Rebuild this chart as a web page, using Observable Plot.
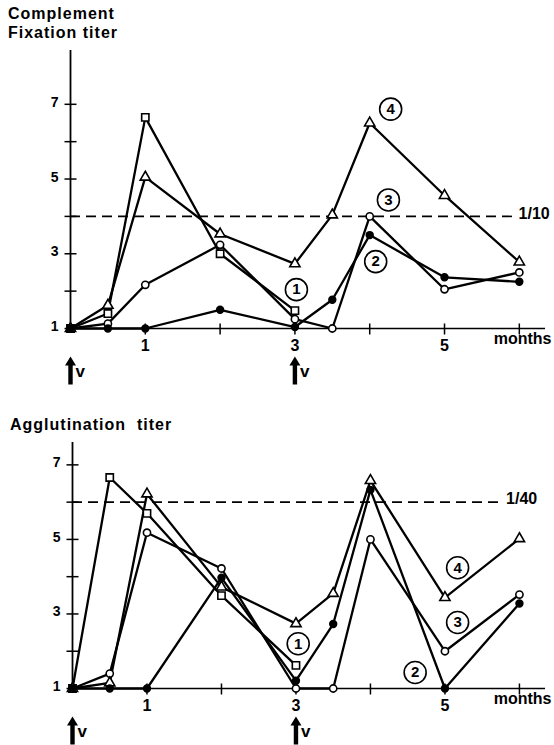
<!DOCTYPE html>
<html>
<head>
<meta charset="utf-8">
<script src="https://cdn.jsdelivr.net/npm/d3@7"></script>
<script src="https://cdn.jsdelivr.net/npm/@observablehq/plot@0.6"></script>
<style>
  html, body { margin: 0; padding: 0; background: #fff; }
  #wrap { position: relative; width: 554px; height: 745px; font-family: "Liberation Sans", Arial, sans-serif; color: #000; }
  .title { position: absolute; font-weight: bold; font-size: 16px; line-height: 19px; letter-spacing: 1px; white-space: pre; }
  .panel { position: absolute; left: 0; }
</style>
</head>
<body>
<div id="wrap">
  <div id="top" class="panel" style="top:0px"></div>
  <div id="bottom" class="panel" style="top:395px"></div>
  <div class="title" style="left:8px; top:4px">Complement
Fixation titer</div>
  <div class="title" style="left:10px; top:415px">Agglutination  titer</div>
</div>
<script>
// ---- data ----
const months = [0, 0.5, 1, 2, 3, 3.5, 4, 5, 6];

// Complement fixation titer (series 1..4)
const cfSeries1 = [1, 1.4, 6.65, 3.0, 1.48, null, null, null, null];   // open squares
const cfSeries2 = [1, 1.0, 1.0, 1.5, 1.04, 1.77, 3.5, 2.37, 2.25];     // filled circles
const cfSeries3 = [1, 1.13, 2.17, 3.24, 1.25, 1.0, 4.0, 2.05, 2.5];    // open circles
const cfSeries4 = [1, 1.62, 5.05, 3.53, 2.73, 4.04, 6.5, 4.56, 2.78];  // open triangles

// Agglutination titer (series 1..4)
const agSeries1 = [1, 6.66, 5.7, 3.49, 1.62, null, null, null, null];
const agSeries2 = [1, 1.0, 1.0, 3.97, 1.21, 2.73, 6.33, 1.0, 3.28];
const agSeries3 = [1, 1.4, 5.18, 4.22, 1.0, 1.0, 5.0, 2.0, 3.52];
const agSeries4 = [1, 1.15, 6.22, 3.72, 2.74, 3.55, 6.58, 3.44, 5.02];

const seriesNames = ["1", "2", "3", "4"];
const seriesSymbols = ["square", "circle", "circle", "triangle"];
const seriesFills = ["white", "black", "white", "white"];
const seriesRadius = [4.1, 3.4, 3.6, 3.8];
const markerOrder = [0, 2, 3, 1]; // filled circles drawn on top

// circled series labels
const cfLabelX = [3.02, 4.08, 4.25, 4.28];
const cfLabelY = [2.04, 2.79, 4.44, 6.87];
const agLabelX = [3.03, 4.6, 5.17, 5.17];
const agLabelY = [2.2, 1.43, 2.77, 4.24];

// axes
const yTicks = [1, 2, 3, 4, 5, 6, 7];
const yTickLabels = ["1", "", "3", "", "5", "", "7"];
const xTicks = [1, 2, 3, 4, 5, 6];
const xTickLabels = ["1", "", "3", "", "5", ""];
const xLabel = "months";

// reference lines & vaccinations
const cfThreshold = 4, cfThresholdLabel = "1/10", cfThresholdEnd = 5.91;
const agThreshold = 6, agThresholdLabel = "1/40", agThresholdEnd = 5.74;
const vaccinations = [0, 3];
const vaccinationLabel = "v";

// ---- helpers ----
function rows(values, series) {
  return months.map((m, i) => ({series, x: m, y: values[i]})).filter(d => d.y != null);
}

const arrowSymbol = {
  draw(context, size) {
    const s = Math.sqrt(size / Math.PI); // = r
    const tip = -s, base = -s + 9, hw = 5.5, sw = 2.2;
    context.moveTo(0, tip);
    context.lineTo(hw, base);
    context.lineTo(sw, base);
    context.lineTo(sw, s);
    context.lineTo(-sw, s);
    context.lineTo(-sw, base);
    context.lineTo(-hw, base);
    context.closePath();
  }
};
// crossing tick marks (centred on the axis line)
const hTick = {draw(context) { context.moveTo(-6, 0); context.lineTo(6, 0); }};
const vTick = {draw(context) { context.moveTo(0, -5); context.lineTo(0, 6); }};

function panel(cfg) {
  const data = cfg.series.map((v, i) => rows(v, seriesNames[i]));
  const labels = seriesNames.map((n, i) => ({text: n, x: cfg.labelX[i], y: cfg.labelY[i]}));
  const marks = [
    Plot.ruleX([0], {strokeWidth: 1.8}),
    Plot.ruleY([1], {strokeWidth: 1.6}),
    Plot.dot(yTicks, {y: d => d, frameAnchor: "left", symbol: hTick, fill: "none", stroke: "black", strokeWidth: 1.5}),
    Plot.dot(xTicks, {x: d => d, frameAnchor: "bottom", symbol: vTick, fill: "none", stroke: "black", strokeWidth: 1.5}),
    Plot.axisY(yTicks, {anchor: "left", tickSize: 0, tickPadding: 12, dy: -2, label: null,
      tickFormat: d => yTickLabels[yTicks.indexOf(d)], fontSize: 14, fontWeight: "bold"}),
    Plot.axisX(xTicks, {anchor: "bottom", tickSize: 0, tickPadding: 11, label: null,
      tickFormat: d => xTickLabels[xTicks.indexOf(d)], fontSize: 16, fontWeight: "bold"}),
    Plot.ruleY([cfg.threshold], {x1: 0, x2: cfg.thresholdEnd, strokeDasharray: "10,6", strokeWidth: 1.6}),
    Plot.text([cfg.thresholdLabel], {x: cfg.thresholdEnd, y: cfg.threshold, dx: 6, dy: -3, textAnchor: "start",
      fontSize: 16, fontWeight: "bold"}),
    ...data.map(d => Plot.line(d, {x: "x", y: "y", strokeWidth: 2.3, stroke: "black"})),
    ...markerOrder.map(i => Plot.dot(data[i], {x: "x", y: "y", symbol: seriesSymbols[i], r: seriesRadius[i],
      fill: seriesFills[i], stroke: "black", strokeWidth: 1.6})),
    Plot.dot(labels, {x: "x", y: "y", r: 11, fill: "white", stroke: "black", strokeWidth: 1.6}),
    Plot.text(labels, {x: "x", y: "y", text: "text", fontSize: 15, fontWeight: "bold"}),
    Plot.text([xLabel], {frameAnchor: "bottom-right", textAnchor: "end", dx: 6, dy: 15, fontSize: 16, fontWeight: "bold"}),
    Plot.dot(vaccinations, {x: d => d, frameAnchor: "bottom", dy: 42, r: 14, symbol: arrowSymbol, fill: "black", stroke: "none"}),
    Plot.text(vaccinations, {x: d => d, text: () => vaccinationLabel, frameAnchor: "bottom", dx: 5, dy: 48,
      textAnchor: "start", fontSize: 17, fontWeight: "bold"})
  ];
  return Plot.plot({
    width: 554,
    height: cfg.height,
    marginLeft: cfg.marginLeft,
    marginRight: 9,
    marginTop: cfg.marginTop,
    marginBottom: cfg.marginBottom,
    x: {domain: [0, 6.35], axis: null, label: null},
    y: {domain: cfg.yDomain, axis: null, label: null},
    style: {background: "white", color: "black", overflow: "visible", fontFamily: "'Liberation Sans', Arial, sans-serif"},
    marks
  });
}

document.getElementById("top").appendChild(panel({
  series: [cfSeries1, cfSeries2, cfSeries3, cfSeries4],
  labelX: cfLabelX, labelY: cfLabelY,
  threshold: cfThreshold, thresholdLabel: cfThresholdLabel, thresholdEnd: cfThresholdEnd,
  height: 395, marginLeft: 70, marginTop: 50, marginBottom: 67, yDomain: [1, 8.44]
}));

document.getElementById("bottom").appendChild(panel({
  series: [agSeries1, agSeries2, agSeries3, agSeries4],
  labelX: agLabelX, labelY: agLabelY,
  threshold: agThreshold, thresholdLabel: agThresholdLabel, thresholdEnd: agThresholdEnd,
  height: 350, marginLeft: 72, marginTop: 47, marginBottom: 57, yDomain: [1, 7.6]
}));
</script>
</body>
</html>
